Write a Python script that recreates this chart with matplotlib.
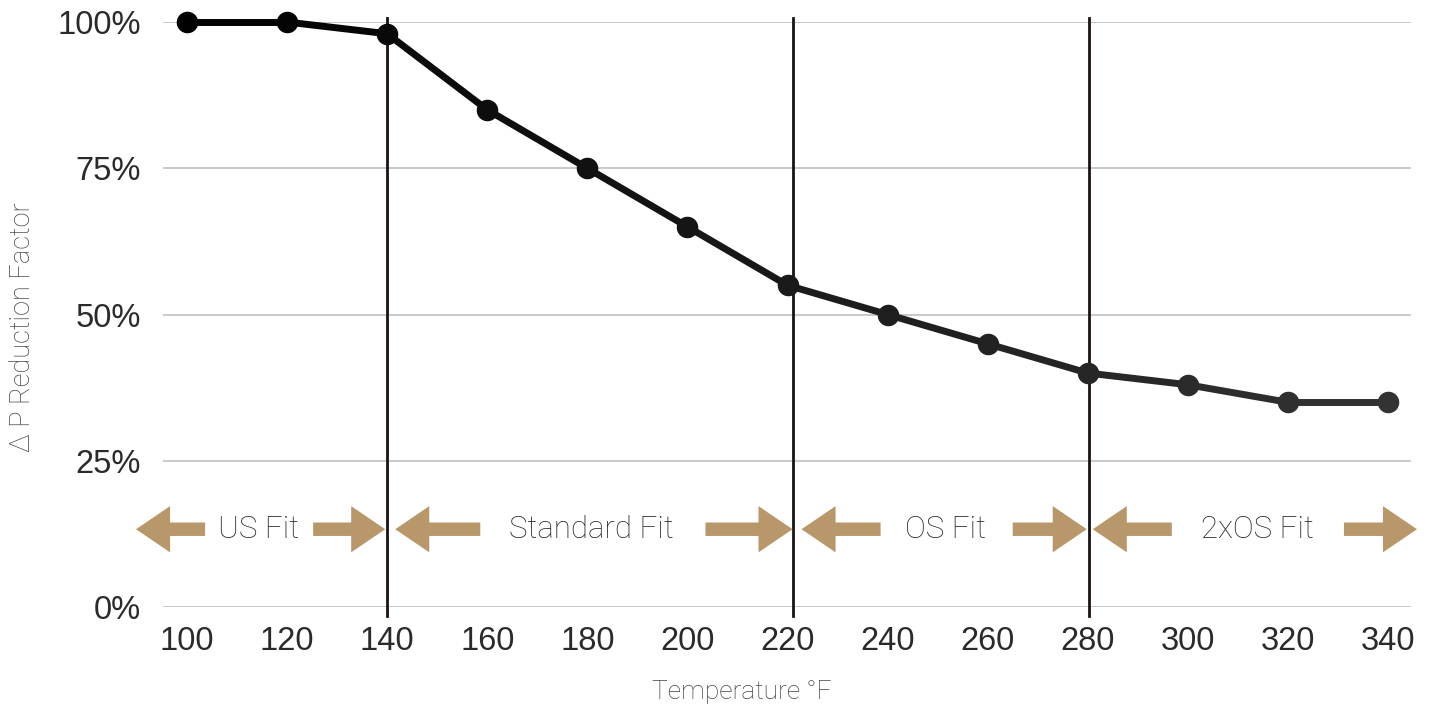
import numpy as np
import matplotlib
matplotlib.use("Agg")
import matplotlib.pyplot as plt
from matplotlib.patches import FancyArrow
from matplotlib.colors import to_rgb

# data
temps = [100, 120, 140, 160, 180, 200, 220, 240, 260, 280, 300, 320, 340]
factor = [100, 100, 98, 85, 75, 65, 55, 50, 45, 40, 38, 35, 35]
y_ticks = [0, 25, 50, 75, 100]
y_tick_labels = ["0%", "25%", "50%", "75%", "100%"]

# fit zones and the temperature index where each zone boundary sits
zones = ["US Fit", "Standard Fit", "OS Fit", "2xOS Fit"]
boundaries = [2.0, 6.05, 9.01]

# arrow layout (category index units): left arrow tip/tail, right arrow tail/tip
left_arrows = [(-0.51, 0.18), (2.08, 2.93), (6.14, 6.93), (9.05, 9.84)]
right_arrows = [(1.26, 1.98), (5.18, 6.05), (8.25, 8.99), (11.56, 12.29)]
text_x = [0.71, 4.04, 7.58, 10.70]

tan = "#b8976a"


def main():
    fig = plt.figure(figsize=(14.29, 7.07), dpi=100)
    ax = fig.add_axes([0.1141, 0.1414, 0.8733, 0.8274])
    x = np.arange(len(temps))

    # grid
    for yv in y_ticks:
        ax.axhline(yv, color="#c8c8c8", lw=1.4, zorder=0)

    # zone separators
    for e in boundaries:
        ax.axvline(e, ymin=-0.016, ymax=1.007, color="#1a1214", lw=2.0,
                   clip_on=False, zorder=2)

    # line with a slight black -> dark gray gradient
    c0 = np.array(to_rgb("#000000"))
    c1 = np.array(to_rgb("#333333"))
    n = len(x)
    for i in range(n - 1):
        t = (i + 0.5) / (n - 1)
        ax.plot(x[i:i + 2], factor[i:i + 2], color=c0 + (c1 - c0) * t,
                lw=5.0, solid_capstyle="round", clip_on=False, zorder=3)
    for i in range(n):
        t = i / (n - 1)
        ax.plot(x[i], factor[i], "o", ms=14.5, color=c0 + (c1 - c0) * t,
                clip_on=False, zorder=4)

    # zone arrows and labels
    yc = 13.3
    hw, sw, hl = 7.9, 2.3, 0.34
    for k, name in enumerate(zones):
        tip, tail = left_arrows[k]
        ax.add_patch(FancyArrow(tail, yc, tip - tail, 0, width=sw,
                                head_width=hw, head_length=hl,
                                length_includes_head=True, color=tan, lw=0,
                                clip_on=False, zorder=3))
        tail, tip = right_arrows[k]
        ax.add_patch(FancyArrow(tail, yc, tip - tail, 0, width=sw,
                                head_width=hw, head_length=hl,
                                length_includes_head=True, color=tan, lw=0,
                                clip_on=False, zorder=3))
        ax.text(text_x[k], yc, name, ha="center", va="center",
                fontsize=22.5, fontfamily="Roboto", fontweight="light",
                color="#2a2a2a")

    ax.set_xlim(-0.24, 12.23)
    ax.set_ylim(0, 100)
    ax.set_xticks(x)
    ax.set_xticklabels([str(t) for t in temps], fontsize=23.5,
                       fontfamily="Liberation Sans", color="#2a2a2a")
    ax.set_yticks(y_ticks)
    ax.set_yticklabels(y_tick_labels, fontsize=23.5,
                       fontfamily="Liberation Sans", color="#2a2a2a")
    ax.tick_params(length=0)
    ax.tick_params(axis="x", pad=14)
    ax.tick_params(axis="y", pad=16)
    for s in ax.spines.values():
        s.set_visible(False)

    ax.set_xlabel("Temperature °F", fontsize=19, fontfamily="Roboto",
                  fontweight="light", color="#444444")
    ax.xaxis.set_label_coords(0.464, -0.125)
    ax.set_ylabel("Δ P Reduction Factor", fontsize=19.5, fontfamily="Roboto",
                  fontweight="light", color="#444444", va="center")
    ax.yaxis.set_label_coords(-0.113, 0.479)

    fig.savefig("out.png", dpi=100)


if __name__ == "__main__":
    main()
